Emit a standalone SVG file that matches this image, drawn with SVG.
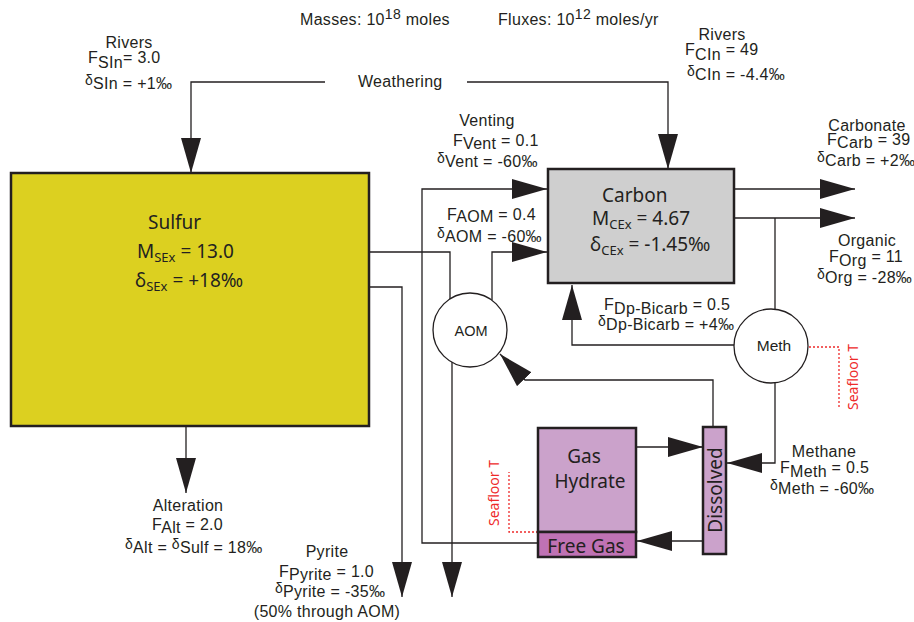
<svg xmlns="http://www.w3.org/2000/svg" width="914" height="622" viewBox="0 0 914 622">
<defs>
<marker id="ah" markerUnits="userSpaceOnUse" markerWidth="36" markerHeight="20" viewBox="0 0 36 20" refX="35" refY="10" orient="auto">
<path d="M0,0 L35,10 L0,20 Z" fill="#231f20"/>
</marker>
</defs>
<style>
.ln{fill:none;stroke:#231f20;stroke-width:1.3}
.ar{fill:none;stroke:#231f20;stroke-width:1.3;marker-end:url(#ah)}
.red{fill:none;stroke:#ee2a2a;stroke-width:1.3;stroke-dasharray:2 2}
.lb{font-family:"Liberation Sans",Arial,sans-serif;font-size:16px;letter-spacing:0.3px;fill:#231f20}
.bx{font-family:"Noto Sans","Open Sans",sans-serif;font-size:19px;fill:#231f20}
.rt{font-family:"Noto Sans","Open Sans",sans-serif;font-size:14px;fill:#ee2a2a}
.d{font-size:14px}
.s{font-size:13px}
</style>
<rect width="914" height="622" fill="#ffffff"/>

<g id="connectors">
<path class="ar" d="M325,82 H191 V173"/>
<path class="ar" d="M467,82 H668 V169"/>
<path class="ar" d="M538,543 H422 V189 H547"/>
<path class="ln" d="M369,252 H450 V299"/>
<path class="ar" d="M492,300 V252 H547"/>
<path class="ar" d="M452,362 V597"/>
<path class="ar" d="M369,287 H402 V597"/>
<path class="ar" d="M186,426 V493"/>
<path class="ar" d="M734,189 H855"/>
<path class="ar" d="M734,218 H855"/>
<path class="ln" d="M775,218 V310"/>
<path class="ar" d="M735,345 H572 V285"/>
<path class="ar" d="M775,383 V463 H727"/>
<path class="ar" d="M713,427 V380 H525 L500,354"/>
<path class="ar" d="M636,447 H703"/>
<path class="ar" d="M703,541 H637"/>
<path class="red" d="M809,347 H839 V408"/>
<path class="red" d="M538,532 H509 V472"/>
</g>

<g id="sulfur">
<rect x="11" y="173" width="358" height="253" fill="#dcd020" stroke="#231f20" stroke-width="2.5"/>
<text class="bx" x="148" y="229">Sulfur</text>
<text class="bx" x="137" y="258">M<tspan class="s" dy="4">SEx</tspan><tspan dy="-4"> = 13.0</tspan></text>
<text class="bx" x="135" y="287">δ<tspan class="s" dy="4">SEx</tspan><tspan dy="-4"> = +18‰</tspan></text>
</g>

<g id="carbon">
<rect x="548" y="169" width="186" height="114" fill="#cfcfcf" stroke="#231f20" stroke-width="2.5"/>
<text class="bx" x="602" y="202">Carbon</text>
<text class="bx" x="592" y="225">M<tspan class="s" dy="4">CEx</tspan><tspan dy="-4"> = 4.67</tspan></text>
<text class="bx" x="590" y="251">δ<tspan class="s" dy="4">CEx</tspan><tspan dy="-4"> = -1.45‰</tspan></text>
</g>

<g id="aom">
<circle cx="470" cy="330" r="37" fill="#ffffff" stroke="#231f20" stroke-width="1.3"/>
<text class="lb" x="471" y="336" text-anchor="middle" style="font-size:14.5px;letter-spacing:0">AOM</text>
</g>

<g id="meth">
<circle cx="771" cy="346" r="37" fill="#ffffff" stroke="#231f20" stroke-width="1.3"/>
<text class="lb" x="774" y="351" text-anchor="middle" style="font-size:15.5px;letter-spacing:0">Meth</text>
</g>

<g id="gas-hydrate">
<rect x="538" y="428" width="98" height="104" fill="#cba2cb" stroke="#231f20" stroke-width="2.5"/>
<text class="bx" x="584" y="463" text-anchor="middle">Gas</text>
<text class="bx" x="590" y="488" text-anchor="middle">Hydrate</text>
</g>

<g id="free-gas">
<rect x="538" y="532" width="98" height="25" fill="#bf72b4" stroke="#231f20" stroke-width="2.5"/>
<text class="bx" x="586" y="553" text-anchor="middle">Free Gas</text>
</g>

<g id="dissolved">
<rect x="703" y="427" width="23" height="127" fill="#cba2cb" stroke="#231f20" stroke-width="2.5"/>
<text class="bx" transform="translate(722,490) rotate(-90)" text-anchor="middle">Dissolved</text>
</g>

<g id="labels">
<text class="lb" x="300" y="25">Masses: 10<tspan class="d" dy="-6">18</tspan><tspan dy="6"> moles</tspan></text>
<text class="lb" x="498" y="25">Fluxes: 10<tspan class="d" dy="-6">12</tspan><tspan dy="6"> moles/yr</tspan></text>
<text class="lb" x="358" y="87">Weathering</text>

<text class="lb" x="129" y="48" text-anchor="middle">Rivers</text>
<text class="lb" x="88" y="63">F<tspan dy="5">SIn</tspan><tspan dy="-5">= 3.0</tspan></text>
<text class="lb" x="85" y="89"><tspan class="d" dy="-4">δ</tspan><tspan dy="4">SIn = +1‰</tspan></text>

<text class="lb" x="722" y="40" text-anchor="middle">Rivers</text>
<text class="lb" x="685" y="55">F<tspan dy="5">CIn</tspan><tspan dy="-5"> = 49</tspan></text>
<text class="lb" x="687" y="80"><tspan class="d" dy="-4">δ</tspan><tspan dy="4">CIn = -4.4‰</tspan></text>

<text class="lb" x="487" y="126" text-anchor="middle">Venting</text>
<text class="lb" x="453" y="146">F<tspan dy="3">Vent</tspan><tspan dy="-3"> = 0.1</tspan></text>
<text class="lb" x="437" y="167"><tspan class="d" dy="-4">δ</tspan><tspan dy="4">Vent = -60‰</tspan></text>

<text class="lb" x="867" y="131" text-anchor="middle">Carbonate</text>
<text class="lb" x="827" y="145">F<tspan dy="3">Carb</tspan><tspan dy="-3"> = 39</tspan></text>
<text class="lb" x="817" y="166"><tspan class="d" dy="-4">δ</tspan><tspan dy="4">Carb = +2‰</tspan></text>

<text class="lb" x="447" y="220">F<tspan dy="2">AOM</tspan><tspan dy="-2"> = 0.4</tspan></text>
<text class="lb" x="437" y="242"><tspan class="d" dy="-4">δ</tspan><tspan dy="4">AOM = -60‰</tspan></text>

<text class="lb" x="867" y="246" text-anchor="middle">Organic</text>
<text class="lb" x="829" y="262">F<tspan dy="4">Org</tspan><tspan dy="-4"> = 11</tspan></text>
<text class="lb" x="817" y="283"><tspan class="d" dy="-4">δ</tspan><tspan dy="4">Org = -28‰</tspan></text>

<text class="lb" x="604" y="310">F<tspan dy="4">Dp-Bicarb</tspan><tspan dy="-4"> = 0.5</tspan></text>
<text class="lb" x="598" y="330"><tspan class="d" dy="-4">δ</tspan><tspan dy="4">Dp-Bicarb = +4‰</tspan></text>

<text class="lb" x="824" y="457" text-anchor="middle">Methane</text>
<text class="lb" x="780" y="473">F<tspan dy="4">Meth</tspan><tspan dy="-4"> = 0.5</tspan></text>
<text class="lb" x="770" y="494"><tspan class="d" dy="-4">δ</tspan><tspan dy="4">Meth = -60‰</tspan></text>

<text class="lb" x="188" y="511" text-anchor="middle">Alteration</text>
<text class="lb" x="152" y="530">F<tspan dy="3">Alt</tspan><tspan dy="-3"> = 2.0</tspan></text>
<text class="lb" x="125" y="553"><tspan class="d" dy="-4">δ</tspan><tspan dy="4">Alt = </tspan><tspan class="d" dy="-4">δ</tspan><tspan dy="4">Sulf = 18‰</tspan></text>

<text class="lb" x="327" y="557" text-anchor="middle">Pyrite</text>
<text class="lb" x="279" y="577">F<tspan dy="3">Pyrite</tspan><tspan dy="-3"> = 1.0</tspan></text>
<text class="lb" x="275" y="597"><tspan class="d" dy="-4">δ</tspan><tspan dy="4">Pyrite = -35‰</tspan></text>
<text class="lb" x="327" y="617" text-anchor="middle">(50% through AOM)</text>

<text class="rt" transform="translate(858,377) rotate(-90)" text-anchor="middle">Seafloor T</text>
<text class="rt" transform="translate(499,493) rotate(-90)" text-anchor="middle">Seafloor T</text>
</g>
</svg>
